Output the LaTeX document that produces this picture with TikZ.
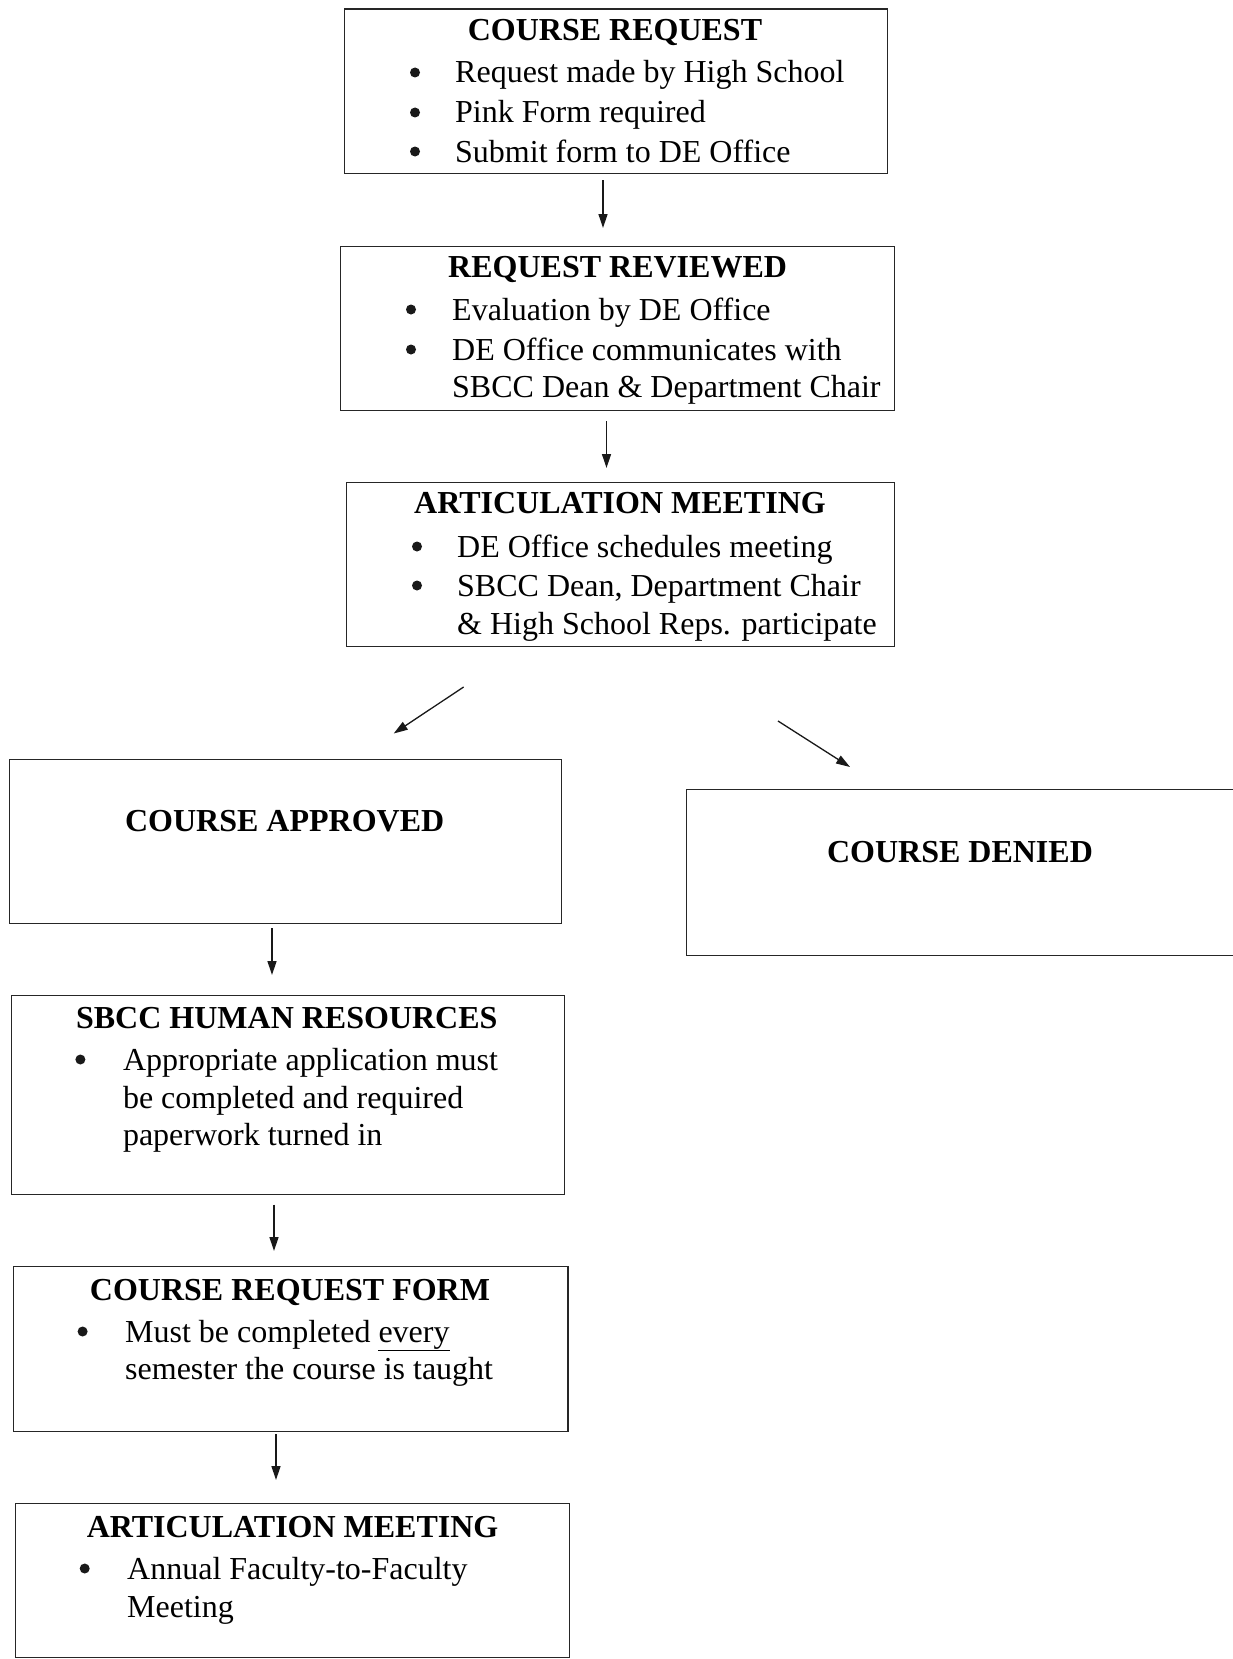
\documentclass[tikz,border=0pt]{standalone}
\usepackage{fontspec}
\setmainfont{Liberation Serif}
\usetikzlibrary{arrows.meta}
\tikzset{
  box/.style={draw=black!85, line width=1.4pt, inner sep=0pt, anchor=north west},
  ttl/.style={font=\fontsize{32}{38}\selectfont\bfseries, anchor=base, inner sep=0pt},
  txt/.style={font=\fontsize{32}{38}\selectfont, anchor=base west, inner sep=0pt},
  bul/.style={circle, fill=black!90, inner sep=0pt, minimum size=10pt, yshift=10.5pt},
  arr/.style={line width=1.3pt, draw=black!90, -{Triangle[length=14pt,width=9pt]}}
}
\begin{document}
\begin{tikzpicture}[x=1pt,y=-1pt]
\useasboundingbox[fill=white] (0,0) rectangle (1233,1659);

% Box 1
\node[box, minimum width=543pt, minimum height=164pt] (b1) at (344,8.5) {};
\node[ttl] (t1) at (615,41) {COURSE REQUEST};
\node[bul] (b1a) at (415,83) {};
\node[txt] (l1a) at (455,83) {Request made by High School};
\node[bul] (b1b) at (415,123) {};
\node[txt] (l1b) at (455,123) {Pink Form required};
\node[bul] (b1c) at (415,162) {};
\node[txt] (l1c) at (455,162) {Submit form to DE Office};

% Box 2
\node[box, minimum width=554pt, minimum height=164pt] (b2) at (340,245.5) {};
\node[ttl] (t2) at (617.6,277.5) {REQUEST REVIEWED};
\node[bul] (b2a) at (411,320) {};
\node[txt] (l2a) at (452,320) {Evaluation by DE Office};
\node[bul] (b2b) at (411,360) {};
\node[txt] (l2b) at (452,360) {DE Office communicates with};
\node[txt] (l2c) at (452,397) {SBCC Dean \& Department Chair};

% Box 3
\node[box, minimum width=548pt, minimum height=164pt] (b3) at (346,481.6) {};
\node[ttl] (t3) at (620,513.5) {ARTICULATION MEETING};
\node[bul] (b3a) at (417,557) {};
\node[txt] (l3a) at (457,557) {DE Office schedules meeting};
\node[bul] (b3b) at (417,596) {};
\node[txt] (l3b) at (457,596) {SBCC Dean, Department Chair};
\node[txt] (l3c) at (457,634) {\& High School Reps. participate};

% Box 4
\node[box, minimum width=552.5pt, minimum height=164pt] (b4) at (8.5,759) {};
\node[ttl] (t4) at (284.7,831) {COURSE APPROVED};

% Box 5
\node[box, minimum width=560pt, minimum height=166pt] (b5) at (686,788.5) {};
\node[ttl] (t5) at (960,862) {COURSE DENIED};

% Box 6
\node[box, minimum width=553.4pt, minimum height=199pt] (b6) at (10.6,995) {};
\node[ttl] (t6) at (286.8,1028) {SBCC HUMAN RESOURCES};
\node[bul] (b6a) at (80.4,1070) {};
\node[txt] (l6a) at (122.8,1070) {Appropriate application must};
\node[txt] (l6b) at (122.8,1108) {be completed and required};
\node[txt] (l6c) at (122.8,1145) {paperwork turned in};

% Box 7
\node[box, minimum width=554.5pt, minimum height=165pt] (b7) at (12.7,1266) {};
\node[ttl] (t7) at (290,1300) {COURSE REQUEST FORM};
\node[bul] (b7a) at (82.6,1342) {};
\node[txt] (l7a) at (125,1342) {Must be completed \underline{every}};
\node[txt] (l7b) at (125,1379) {semester the course is taught};

% Box 8
\node[box, minimum width=554pt, minimum height=154pt] (b8) at (15,1503) {};
\node[ttl] (t8) at (292.6,1537) {ARTICULATION MEETING};
\node[bul] (b8a) at (84.7,1579) {};
\node[txt] (l8a) at (127,1579) {Annual Faculty-to-Faculty};
\node[txt] (l8b) at (127,1617) {Meeting};

% Connectors (floating between boxes)
\coordinate (a1s) at (603,180);   \coordinate (a1e) at (603,228);
\coordinate (a2s) at (606.5,421); \coordinate (a2e) at (606.5,468);
\coordinate (a3s) at (463.6,687); \coordinate (a3e) at (393.7,733.5);
\coordinate (a4s) at (778,721);   \coordinate (a4e) at (850,767);
\coordinate (a5s) at (272,928);   \coordinate (a5e) at (272,975);
\coordinate (a6s) at (274,1204.5);\coordinate (a6e) at (274,1251);
\coordinate (a7s) at (276,1434);  \coordinate (a7e) at (276,1480);
\draw[arr] (a1s) -- (a1e);
\draw[arr] (a2s) -- (a2e);
\draw[arr] (a3s) -- (a3e);
\draw[arr] (a4s) -- (a4e);
\draw[arr] (a5s) -- (a5e);
\draw[arr] (a6s) -- (a6e);
\draw[arr] (a7s) -- (a7e);
\end{tikzpicture}
\end{document}
